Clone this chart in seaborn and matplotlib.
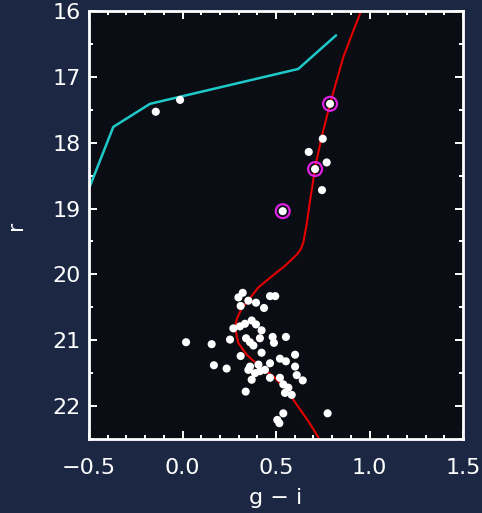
import numpy as np
import pandas as pd
import matplotlib
matplotlib.use("Agg")
import matplotlib.pyplot as plt
from matplotlib.ticker import MultipleLocator
import seaborn as sns

# Horizontal-branch ridge line (g-i, r)
hb_gi = [-0.495, -0.37, -0.174, 0.619, 0.821]
hb_r = [18.66, 17.76, 17.41, 16.88, 16.37]

# Isochrone: red giant branch down to the main-sequence turn-off
iso_gi = [0.955, 0.900, 0.860, 0.825, 0.789, 0.745, 0.709, 0.695, 0.682, 0.664,
          0.646, 0.632, 0.611, 0.548, 0.477, 0.405, 0.361, 0.316, 0.290, 0.281,
          0.298, 0.343, 0.414, 0.486, 0.557, 0.611, 0.673, 0.732]
iso_r = [16.00, 16.40, 16.70, 17.05, 17.41, 17.90, 18.38, 18.65, 18.88, 19.24,
         19.52, 19.62, 19.70, 19.87, 20.03, 20.20, 20.36, 20.52, 20.68, 20.81,
         21.04, 21.22, 21.40, 21.55, 21.75, 21.98, 22.23, 22.50]

# Spectroscopic members (ringed)
mem_gi = [0.789, 0.709, 0.536]
mem_r = [17.41, 18.40, 19.04]

# Photometric stars
star_gi = [-0.013, -0.143, 0.750, 0.675, 0.771, 0.746, 0.776,
           0.322, 0.299, 0.352, 0.393, 0.311, 0.436, 0.468, 0.496,
           0.370, 0.334, 0.393, 0.307, 0.272, 0.423, 0.340, 0.361, 0.379,
           0.254, 0.156, 0.019, 0.414, 0.482, 0.489, 0.553, 0.423, 0.311,
           0.602, 0.521, 0.553, 0.168, 0.236, 0.361, 0.406, 0.441, 0.388,
           0.414, 0.352, 0.468, 0.370, 0.468, 0.521, 0.602, 0.611, 0.643,
           0.539, 0.548, 0.584, 0.338, 0.539, 0.507, 0.518, 0.566]
star_r = [17.35, 17.53, 17.94, 18.14, 18.30, 18.72, 22.11,
          20.28, 20.35, 20.40, 20.43, 20.48, 20.51, 20.33, 20.33,
          20.70, 20.75, 20.76, 20.79, 20.82, 20.85, 20.97, 21.03, 21.08,
          20.99, 21.06, 21.03, 20.97, 20.95, 21.04, 20.95, 21.19, 21.24,
          21.22, 21.28, 21.32, 21.38, 21.43, 21.40, 21.37, 21.45, 21.50,
          21.47, 21.45, 21.35, 21.60, 21.57, 21.57, 21.40, 21.53, 21.61,
          21.67, 21.80, 21.83, 21.78, 22.11, 22.21, 22.26, 21.72]

x_ticks = [-0.5, 0.0, 0.5, 1.0, 1.5]
y_ticks = [16, 17, 18, 19, 20, 21, 22]

sns.set_theme(style="ticks")
plt.rcParams["font.family"] = ["DejaVu Sans"]

BG = "#1c2843"
PANEL = "#0a0d14"
FG = "white"

fig = plt.figure(figsize=(4.82, 5.13), dpi=100, facecolor=BG)
ax = fig.add_axes([89 / 482, 74 / 513, 374 / 482, 428 / 513])
ax.set_facecolor(PANEL)

hb = pd.DataFrame({"gi": hb_gi, "r": hb_r})
iso = pd.DataFrame({"gi": iso_gi, "r": iso_r})
stars = pd.DataFrame({"gi": star_gi + mem_gi, "r": star_r + mem_r})
mem = pd.DataFrame({"gi": mem_gi, "r": mem_r})

sns.lineplot(data=hb, x="gi", y="r", sort=False, estimator=None,
             color="#1fc9c9", lw=1.8, ax=ax)
sns.lineplot(data=iso, x="gi", y="r", sort=False, estimator=None,
             color="#e50000", lw=1.5, ax=ax)
sns.scatterplot(data=stars, x="gi", y="r", s=34, color="white",
                edgecolor="none", ax=ax, zorder=4)
sns.scatterplot(data=mem, x="gi", y="r", s=100, facecolor="none",
                edgecolor="#e020e0", linewidth=1.6, ax=ax, zorder=5)

ax.set_xlim(-0.5, 1.5)
ax.set_ylim(22.5, 16.0)
ax.set_xticks(x_ticks)
ax.set_xticklabels([f"{v:.1f}".replace("-", "\u2212") for v in x_ticks])
ax.set_yticks(y_ticks)
ax.set_yticklabels([str(v) for v in y_ticks])
ax.xaxis.set_minor_locator(MultipleLocator(0.1))
ax.yaxis.set_minor_locator(MultipleLocator(0.5))

ax.tick_params(which="both", direction="in", top=True, right=True,
               color=FG, labelcolor=FG, width=1.4)
ax.tick_params(which="major", length=6, labelsize=16)
ax.tick_params(which="minor", length=3)
ax.tick_params(axis="x", which="major", pad=14)
ax.tick_params(axis="y", which="major", pad=6)

for sp in ax.spines.values():
    sp.set_color(FG)
    sp.set_linewidth(2.0)

ax.set_xlabel("g \u2212 i", color=FG, fontsize=16, labelpad=7)
ax.set_ylabel("r", color=FG, fontsize=16, labelpad=19)

fig.savefig("out.png", dpi=100, facecolor=BG)
